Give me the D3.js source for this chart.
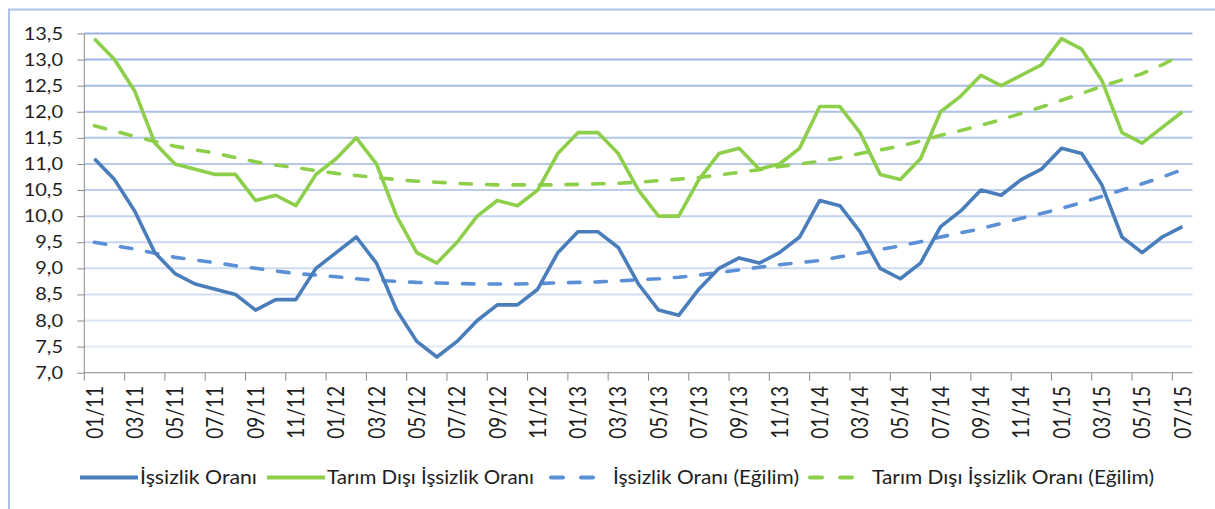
<!DOCTYPE html>
<html>
<head>
<meta charset="utf-8">
<script src="https://cdn.jsdelivr.net/npm/d3@7/dist/d3.min.js"></script>
<style>
  body { margin: 0; background: #fff; }
  text { font-family: Lato, "Open Sans", sans-serif; fill: #1e1e1e; }
</style>
</head>
<body>
<svg id="chart" width="1215" height="509"></svg>
<script>
// -------------------------------------------------------------------------
// Data

const months = [
  '01/11', '02/11', '03/11', '04/11', '05/11', '06/11', '07/11', '08/11', '09/11', '10/11', '11/11', '12/11',
  '01/12', '02/12', '03/12', '04/12', '05/12', '06/12', '07/12', '08/12', '09/12', '10/12', '11/12', '12/12',
  '01/13', '02/13', '03/13', '04/13', '05/13', '06/13', '07/13', '08/13', '09/13', '10/13', '11/13', '12/13',
  '01/14', '02/14', '03/14', '04/14', '05/14', '06/14', '07/14', '08/14', '09/14', '10/14', '11/14', '12/14',
  '01/15', '02/15', '03/15', '04/15', '05/15', '06/15', '07/15'
];

const unemployment = [
  11.1, 10.7, 10.1, 9.3, 8.9, 8.7, 8.6, 8.5, 8.2, 8.4, 8.4, 9.0,
  9.3, 9.6, 9.1, 8.2, 7.6, 7.3, 7.6, 8.0, 8.3, 8.3, 8.6, 9.3,
  9.7, 9.7, 9.4, 8.7, 8.2, 8.1, 8.6, 9.0, 9.2, 9.1, 9.3, 9.6,
  10.3, 10.2, 9.7, 9.0, 8.8, 9.1, 9.8, 10.1, 10.5, 10.4, 10.7, 10.9,
  11.3, 11.2, 10.6, 9.6, 9.3, 9.6, 9.8
];

const nonFarm = [
  13.4, 13.0, 12.4, 11.4, 11.0, 10.9, 10.8, 10.8, 10.3, 10.4, 10.2, 10.8,
  11.1, 11.5, 11.0, 10.0, 9.3, 9.1, 9.5, 10.0, 10.3, 10.2, 10.5, 11.2,
  11.6, 11.6, 11.2, 10.5, 10.0, 10.0, 10.7, 11.2, 11.3, 10.9, 11.0, 11.3,
  12.1, 12.1, 11.6, 10.8, 10.7, 11.1, 12.0, 12.3, 12.7, 12.5, 12.7, 12.9,
  13.4, 13.2, 12.6, 11.6, 11.4, 11.7, 12.0
];

// trend lines
const unemploymentTrend = [
  9.50, 9.43, 9.37, 9.29, 9.21, 9.16, 9.11, 9.05, 9.00, 8.95, 8.90, 8.87,
  8.84, 8.80, 8.77, 8.75, 8.73, 8.72, 8.71, 8.70, 8.70, 8.70, 8.71, 8.72,
  8.73, 8.74, 8.76, 8.78, 8.80, 8.83, 8.87, 8.92, 8.97, 9.02, 9.07, 9.11,
  9.15, 9.22, 9.29, 9.36, 9.43, 9.51, 9.60, 9.68, 9.76, 9.86, 9.96, 10.05,
  10.15, 10.26, 10.38, 10.50, 10.62, 10.75, 10.89
];

const nonFarmTrend = [
  11.73, 11.63, 11.53, 11.43, 11.34, 11.27, 11.21, 11.12, 11.04, 10.98, 10.93, 10.87,
  10.82, 10.78, 10.74, 10.70, 10.67, 10.65, 10.63, 10.61, 10.60, 10.60, 10.60, 10.60,
  10.61, 10.62, 10.63, 10.65, 10.68, 10.71, 10.74, 10.79, 10.84, 10.89, 10.95, 11.00,
  11.05, 11.12, 11.20, 11.27, 11.34, 11.44, 11.55, 11.64, 11.74, 11.85, 11.97, 12.09,
  12.22, 12.35, 12.49, 12.61, 12.73, 12.90, 13.10
];

const yTicks = [7.0, 7.5, 8.0, 8.5, 9.0, 9.5, 10.0, 10.5, 11.0, 11.5, 12.0, 12.5, 13.0, 13.5];

const seriesNames = [
  'İşsizlik Oranı',
  'Tarım Dışı İşsizlik Oranı',
  'İşsizlik Oranı (Eğilim)',
  'Tarım Dışı İşsizlik Oranı (Eğilim)'
];

// -------------------------------------------------------------------------
// Setup

const svg = d3.select('#chart');
const plotLeft = 84.3, plotRight = 1192.5, plotTop = 33.5, plotBottom = 372.7;
const textStretch = 1.19; // the source picture is stretched sideways

const x = d3.scaleBand().domain(months).range([plotLeft, plotRight]);
const y = d3.scaleLinear().domain([7, 13.5]).range([plotBottom, plotTop]);
const cx = d => x(d) + x.bandwidth() / 2;
const fmt = v => d3.format('.1f')(v).replace('.', ',');

const series = [
  { name: seriesNames[0], values: unemployment, color: '#4a7ebb', dash: null },
  { name: seriesNames[1], values: nonFarm, color: '#8dcf4a', dash: null },
  { name: seriesNames[2], values: unemploymentTrend, color: '#5b8fd6', dash: '11.5,15' },
  { name: seriesNames[3], values: nonFarmTrend, color: '#8dcf4a', dash: '11.5,15' }
];

// outer frame (cut off at right and bottom)
svg.append('rect')
  .attr('x', 9).attr('y', 9.5)
  .attr('width', 1230).attr('height', 520)
  .attr('fill', 'none')
  .attr('stroke', '#adc2e8')
  .attr('stroke-width', 2);

// -------------------------------------------------------------------------
// Grid

const gridColor = d3.interpolateRgb('#9ab3e3', '#e0e8f6');
svg.append('g')
  .selectAll('line')
  .data(yTicks.filter(v => v > 7))
  .enter()
  .append('line')
  .attr('x1', plotLeft).attr('x2', plotRight)
  .attr('y1', d => y(d)).attr('y2', d => y(d))
  .attr('stroke', d => gridColor((13.5 - d) / 6))
  .attr('stroke-width', 2);

// -------------------------------------------------------------------------
// Axes

const axisColor = '#8a8a8a';
const yAxis = svg.append('g').attr('transform', `translate(${plotLeft},0)`)
  .call(d3.axisLeft(y).tickValues(yTicks).tickSize(7).tickFormat(''));
yAxis.select('.domain').remove();
yAxis.selectAll('line').attr('stroke', axisColor);
svg.append('line')
  .attr('x1', plotLeft).attr('x2', plotLeft).attr('y1', plotTop).attr('y2', plotBottom)
  .attr('stroke', axisColor);

svg.append('g')
  .selectAll('text')
  .data(yTicks)
  .enter()
  .append('text')
  .attr('transform', d => `translate(63,${y(d)}) scale(${textStretch},1)`)
  .attr('dy', '0.36em')
  .attr('text-anchor', 'end')
  .style('font-size', '16.8px')
  .text(fmt);

// category ticks sit on the boundaries, every second month
const tickMonths = months.filter((m, i) => i % 2 === 0);
svg.append('g')
  .selectAll('line')
  .data(tickMonths)
  .enter()
  .append('line')
  .attr('x1', d => x(d))
  .attr('x2', d => x(d))
  .attr('y1', plotBottom).attr('y2', plotBottom + 8)
  .attr('stroke', axisColor);
svg.append('line')
  .attr('x1', plotLeft).attr('x2', plotRight).attr('y1', plotBottom).attr('y2', plotBottom)
  .attr('stroke', axisColor);

svg.append('g')
  .selectAll('text')
  .data(tickMonths)
  .enter()
  .append('text')
  .attr('transform', d => `translate(${cx(d)},386) scale(${textStretch},1) rotate(-90)`)
  .attr('dy', '0.36em')
  .attr('text-anchor', 'end')
  .style('font-size', '19px')
  .text(d => d);

// -------------------------------------------------------------------------
// Lines

const line = d3.line()
  .x((d, i) => cx(months[i]))
  .y(d => y(d));

// trends underneath, actual rates on top
[series[2], series[3], series[0], series[1]].forEach(s => {
  svg.append('path')
    .datum(s.values)
    .attr('d', line)
    .attr('fill', 'none')
    .attr('stroke', s.color)
    .attr('stroke-width', 3.6)
    .attr('stroke-linejoin', 'round')
    .attr('stroke-linecap', s.dash ? 'round' : 'butt')
    .attr('stroke-dasharray', s.dash);
});

// -------------------------------------------------------------------------
// Legend

const legendX = [80, 267, 549, 808];
const legendTextWidth = [117, 207, 186, 282];
const legendY = 477.5;
const legend = svg.append('g')
  .selectAll('g')
  .data(series)
  .enter()
  .append('g')
  .attr('transform', (d, i) => `translate(${legendX[i]},${legendY})`);

legend.append('line')
  .attr('x1', d => d.dash ? 2 : 0)
  .attr('x2', 58)
  .attr('stroke', d => d.color)
  .attr('stroke-width', 4)
  .attr('stroke-linecap', d => d.dash ? 'round' : 'butt')
  .attr('stroke-dasharray', d => d.dash ? '12,18' : null);

legend.append('text')
  .attr('x', d => d.dash ? 64 : 60)
  .attr('dy', '0.36em')
  .attr('textLength', (d, i) => legendTextWidth[i])
  .attr('lengthAdjust', 'spacingAndGlyphs')
  .style('font-size', '19px')
  .text(d => d.name);
</script>
</body>
</html>
